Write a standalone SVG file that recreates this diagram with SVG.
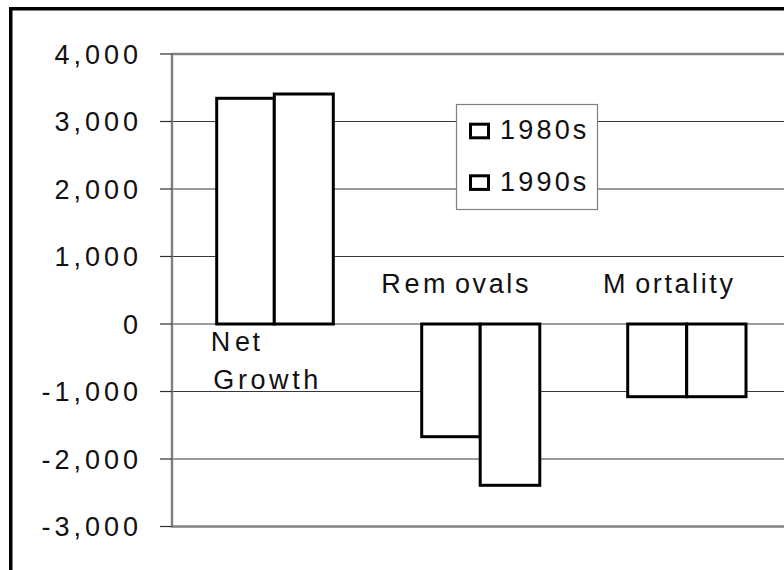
<svg xmlns="http://www.w3.org/2000/svg" width="784" height="570" viewBox="0 0 784 570">
  <style>
    .grid { stroke: #383838; stroke-width: 1.2; fill: none; }
    .frame { stroke: #808080; stroke-width: 2.4; fill: none; }
    .tick { stroke: #303030; stroke-width: 1.2; }
    .bar { fill: #ffffff; stroke: #000000; stroke-width: 3; }
    .swatch { fill: #ffffff; stroke: #000000; stroke-width: 3; }
    .t { font-family: "Liberation Sans", Arial, sans-serif; font-size: 27px; fill: #111111; }
    .ax { letter-spacing: 4px; text-anchor: end; }
    .lg { letter-spacing: 3.2px; }
    .cat { letter-spacing: 2.6px; }
  </style>

  <rect id="background" x="0" y="0" width="784" height="570" fill="#ffffff"/>
  <g id="outer-border">
    <path d="M10.75 600 V8.75 H800" fill="none" stroke="#000000" stroke-width="3.5"/>
  </g>

  <g id="gridlines">
    <line class="grid" x1="172" y1="121.5" x2="784" y2="121.5"/>
    <line class="grid" x1="172" y1="189" x2="784" y2="189"/>
    <line class="grid" x1="172" y1="256.5" x2="784" y2="256.5"/>
    <line class="grid" x1="172" y1="324" x2="784" y2="324"/>
    <line class="grid" x1="172" y1="391.5" x2="784" y2="391.5"/>
    <line class="grid" x1="172" y1="459" x2="784" y2="459"/>
  </g>

  <g id="plot-frame">
    <line class="frame" x1="172" y1="54" x2="784" y2="54"/>
    <line class="frame" x1="172" y1="526.5" x2="784" y2="526.5"/>
    <line class="frame" x1="172" y1="53" x2="172" y2="527.5"/>
  </g>

  <g id="ticks">
    <line class="tick" x1="160" y1="54" x2="172" y2="54"/>
    <line class="tick" x1="160" y1="121.5" x2="172" y2="121.5"/>
    <line class="tick" x1="160" y1="189" x2="172" y2="189"/>
    <line class="tick" x1="160" y1="256.5" x2="172" y2="256.5"/>
    <line class="tick" x1="160" y1="324" x2="172" y2="324"/>
    <line class="tick" x1="160" y1="391.5" x2="172" y2="391.5"/>
    <line class="tick" x1="160" y1="459" x2="172" y2="459"/>
    <line class="tick" x1="160" y1="526.5" x2="172" y2="526.5"/>
  </g>

  <g id="axis-labels" class="t ax">
    <text x="142" y="63.5">4,000</text>
    <text x="142" y="131">3,000</text>
    <text x="142" y="198.5">2,000</text>
    <text x="142" y="266">1,000</text>
    <text x="142" y="333.5">0</text>
    <text x="142" y="401">-1,000</text>
    <text x="142" y="468.5">-2,000</text>
    <text x="142" y="536">-3,000</text>
  </g>

  <g id="bars-net-growth">
    <rect class="bar" x="216.7" y="98.3" width="57.6" height="225.7"/>
    <rect class="bar" x="274.3" y="94" width="59" height="230"/>
  </g>
  <g id="bars-removals">
    <rect class="bar" x="421.7" y="324" width="58.5" height="112.7"/>
    <rect class="bar" x="480.2" y="324" width="59.6" height="161.3"/>
  </g>
  <g id="bars-mortality">
    <rect class="bar" x="627.7" y="324" width="59" height="72.7"/>
    <rect class="bar" x="686.7" y="324" width="59.3" height="72.7"/>
  </g>

  <g id="category-labels" class="t cat">
    <text y="351"><tspan x="210.7">N</tspan><tspan x="235">et</tspan></text>
    <text x="213.3" y="388.5" style="letter-spacing:3.6px">Growth</text>
    <text y="292.5"><tspan x="381.3">R</tspan><tspan x="404.5" style="letter-spacing:3.5px">em</tspan><tspan x="455">ovals</tspan></text>
    <text y="292.5"><tspan x="603">M</tspan><tspan x="635.2">ortality</tspan></text>
  </g>

  <g id="legend">
    <rect x="456.5" y="104.5" width="141" height="105" fill="#ffffff" stroke="#808080" stroke-width="1.2"/>
    <g id="legend-1980s">
      <rect class="swatch" x="470.5" y="124.2" width="18" height="13.6"/>
      <text class="t lg" x="500" y="139.3">1980s</text>
    </g>
    <g id="legend-1990s">
      <rect class="swatch" x="470.5" y="175.8" width="18" height="13.6"/>
      <text class="t lg" x="500" y="191">1990s</text>
    </g>
  </g>
</svg>
